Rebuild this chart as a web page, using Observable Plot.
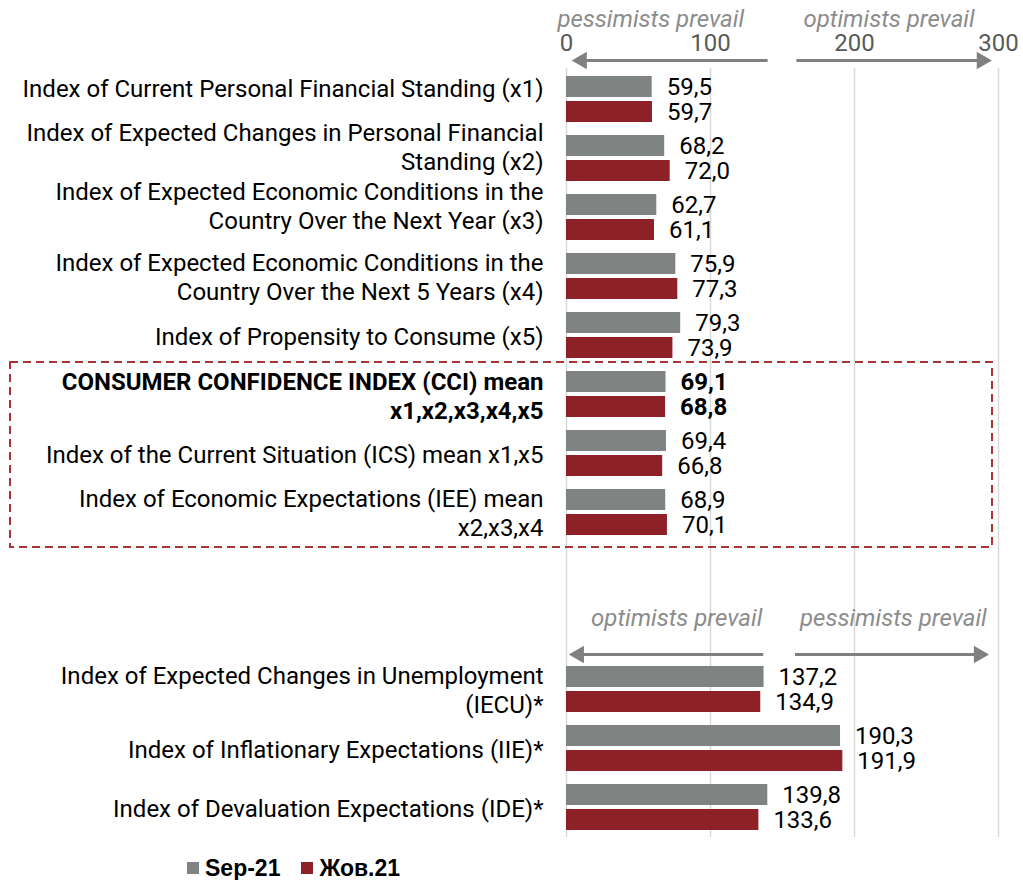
<!DOCTYPE html>
<html><head><meta charset="utf-8">
<script src="https://cdn.jsdelivr.net/npm/d3@7"></script>
<script src="https://cdn.jsdelivr.net/npm/@observablehq/plot@0.6"></script>
<style>
body{margin:0;background:#fff;}
#chart svg{display:block;}
#legend{display:flex;align-items:center;height:36px;padding-left:187px;font-family:"Liberation Sans",Arial,sans-serif;font-weight:bold;font-size:23px;color:#000;}
#legend .item{display:flex;align-items:center;margin-right:21px;}
#legend .sw{width:12px;height:12px;margin-right:6px;display:inline-block;}
</style></head><body>
<div id="chart"></div>
<div id="legend"></div>
<script>
// ---- data ----
const categories = ["x1","x2","x3","x4","x5","CCI","ICS","IEE","IECU","IIE","IDE"];
const labels = [
  "Index of Current Personal Financial Standing (x1)",
  "Index of Expected Changes in Personal Financial\nStanding (x2)",
  "Index of Expected Economic Conditions in the\nCountry Over the Next Year (x3)",
  "Index of Expected Economic Conditions in the\nCountry Over the Next 5 Years (x4)",
  "Index of Propensity to Consume (x5)",
  "CONSUMER CONFIDENCE INDEX (CCI) mean\nx1,x2,x3,x4,x5",
  "Index of the Current Situation (ICS) mean x1,x5",
  "Index of Economic Expectations (IEE) mean\nx2,x3,x4",
  "Index of Expected Changes in Unemployment\n(IECU)*",
  "Index of Inflationary Expectations (IIE)*",
  "Index of Devaluation Expectations (IDE)*"
];
const sep21 = [59.5, 68.2, 62.7, 75.9, 79.3, 69.1, 69.4, 68.9, 137.2, 190.3, 139.8];
const oct21 = [59.7, 72.0, 61.1, 77.3, 73.9, 68.8, 66.8, 70.1, 134.9, 191.9, 133.6];
const seriesNames = ["Sep-21", "Жов.21"];
const seriesColors = ["#7f8483", "#8e2127"];
const xTicks = [0, 100, 200, 300];
const spacers = ["gap1", "gap2"];
const boldCategory = "CCI";
const raisedLabels = ["x1", "x2", "x3"];
const boxedCategories = ["CCI", "IEE"];
// annotation texts (top section, bottom section)
const topNotes = [{text: "pessimists prevail", x: 58.5}, {text: "optimists prevail", x: 224}];
const bottomNotes = [{text: "optimists prevail", x: 76.5}, {text: "pessimists prevail", x: 227}];
const topArrowsLeft = [{x1: 4, x2: 140}];
const topArrowsRight = [{x1: 160, x2: 295}];
const bottomArrowsLeft = [{x1: 2, x2: 137}];
const bottomArrowsRight = [{x1: 159, x2: 293}];

// ---- build ----
const yDomain = [...categories.slice(0, 8), ...spacers, ...categories.slice(8)];
const fmt = v => d3.format(".1f")(v).replace(".", ",");
const rows = categories.map((c, i) => ({cat: c, label: labels[i], sep: sep21[i], oct: oct21[i], bold: c === boldCategory, raised: raisedLabels.includes(c)}));
const firstTop = categories[0], firstBottom = categories[8];
const withY = (arr, y) => arr.map(d => ({...d, y}));

const FONT = "Roboto";
const FS = 24;
const noteGrey = "#8c8c8c";
const arrowGrey = "#808080";

const valueMarks = (data, weight) => [
  Plot.text(data, {x: "sep", y: "cat", text: d => fmt(d.sep), dx: 14.5, dy: -12, textAnchor: "start", fontSize: FS, fontWeight: weight, fill: "#000"}),
  Plot.text(data, {x: "oct", y: "cat", text: d => fmt(d.oct), dx: 14.5, dy: 13, textAnchor: "start", fontSize: FS, fontWeight: weight, fill: "#000"})
];
const labelMark = (data, weight, dy) => Plot.text(data, {x: () => 0, y: "cat", text: "label", dx: -23, dy, textAnchor: "end", lineHeight: 1.2, fontSize: FS, fontWeight: weight, fill: "#000"});

const arrowMarks = (left, right, y, dy) => [
  Plot.ruleY(withY(left, y), {y: "y", x1: "x1", x2: "x2", dy, stroke: arrowGrey, strokeWidth: 3, insetLeft: 12}),
  Plot.ruleY(withY(right, y), {y: "y", x1: "x1", x2: "x2", dy, stroke: arrowGrey, strokeWidth: 3, insetRight: 12}),
  Plot.dot(withY(left, y), {x: "x1", y: "y", dy, dx: 9.5, symbol: "triangle", r: 6.5, rotate: -90, fill: arrowGrey, stroke: "none"}),
  Plot.dot(withY(right, y), {x: "x2", y: "y", dy, dx: -9.5, symbol: "triangle", r: 6.5, rotate: 90, fill: arrowGrey, stroke: "none"})
];

const chart = Plot.plot({
  width: 1023,
  height: 850,
  marginLeft: 566,
  marginRight: 25,
  marginTop: 63,
  marginBottom: 7,
  style: {fontFamily: FONT, fontSize: FS + "px", background: "#fff"},
  x: {domain: [0, 300], axis: null},
  y: {domain: yDomain, padding: 0.22, axis: null},
  marks: [
    Plot.gridX(xTicks, {stroke: "#d9d9d9", strokeOpacity: 1, strokeWidth: 1.5, insetTop: 5, insetBottom: 6}),
    Plot.barX(rows, {x: "sep", y: "cat", fill: seriesColors[0], insetBottom: 25}),
    Plot.barX(rows, {x: "oct", y: "cat", fill: seriesColors[1], insetTop: 25}),
    ...valueMarks(rows.filter(d => !d.bold), "normal"),
    ...valueMarks(rows.filter(d => d.bold), "bold"),
    labelMark(rows.filter(d => !d.bold && !d.raised), "normal", 0),
    labelMark(rows.filter(d => d.raised), "normal", -12),
    labelMark(rows.filter(d => d.bold), "bold", 1),
    Plot.axisX(xTicks, {anchor: "top", tickSize: 0, tickPadding: 13, fontSize: FS, fill: "#595959", label: null}),
    Plot.text(withY(topNotes, firstTop), {x: "x", y: "y", text: "text", dy: -80, fontSize: FS, fontStyle: "italic", fill: noteGrey}),
    Plot.text(withY(bottomNotes, firstBottom), {x: "x", y: "y", text: "text", dy: -71, fontSize: FS, fontStyle: "italic", fill: noteGrey}),
    ...arrowMarks(topArrowsLeft, topArrowsRight, firstTop, -39),
    ...arrowMarks(bottomArrowsLeft, bottomArrowsRight, firstBottom, -35),
    Plot.rect([{y1: boxedCategories[0], y2: boxedCategories[1]}], {y1: "y1", y2: "y2", fill: "none", stroke: "#a83438", strokeWidth: 2, strokeDasharray: "8,5", insetTop: -9, insetBottom: -12, insetLeft: -556, insetRight: 6})
  ]
});
document.getElementById("chart").append(chart);

const legend = document.getElementById("legend");
seriesNames.forEach((name, i) => {
  const item = document.createElement("span");
  item.className = "item";
  const sw = document.createElement("span");
  sw.className = "sw";
  sw.style.background = seriesColors[i];
  item.append(sw, document.createTextNode(name));
  legend.append(item);
});
</script>
</body></html>
